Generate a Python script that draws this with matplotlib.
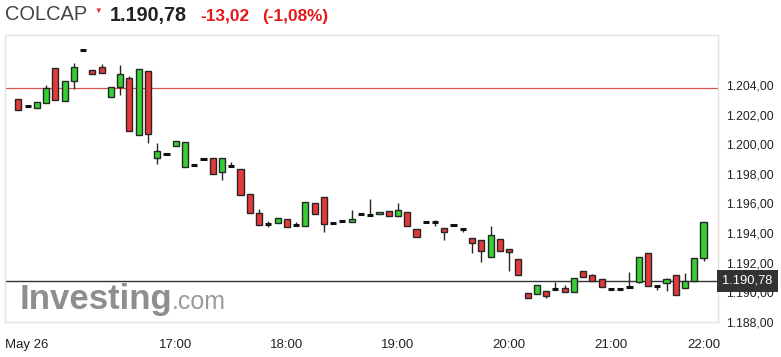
import matplotlib
matplotlib.use("Agg")
import matplotlib.pyplot as plt
import matplotlib.transforms as mtransforms
from matplotlib.patches import Rectangle

plt.rcParams['font.family'] = ['Liberation Sans', 'DejaVu Sans']

# 5-minute candles, COLCAP, May 26
times = [
    "15:35", "15:40", "15:45", "15:50", "15:55", "16:00", "16:05", "16:10", "16:15", "16:20",
    "16:25", "16:30", "16:35", "16:40", "16:45", "16:50", "16:55", "17:00", "17:05", "17:10",
    "17:15", "17:20", "17:25", "17:30", "17:35", "17:40", "17:45", "17:50", "17:55", "18:00",
    "18:05", "18:10", "18:15", "18:20", "18:25", "18:30", "18:35", "18:40", "18:45", "18:50",
    "18:55", "19:00", "19:05", "19:10", "19:15", "19:20", "19:25", "19:30", "19:35", "19:40",
    "19:45", "19:50", "19:55", "20:00", "20:05", "20:10", "20:15", "20:20", "20:25", "20:30",
    "20:35", "20:40", "20:45", "20:55", "21:00", "21:05", "21:10", "21:15", "21:20", "21:30",
    "21:35", "21:40", "21:45", "21:55", "22:00",
]

opens = [
    1203.04, 1202.55, 1202.44, 1202.77, 1205.14, 1202.92, 1204.29, 1206.36, 1205.03, 1205.24,
    1203.20, 1203.87, 1204.45, 1200.64, 1204.96, 1199.07, 1199.34, 1199.91, 1198.45, 1198.61,
    1199.03, 1199.07, 1198.09, 1198.56, 1198.33, 1196.64, 1195.37, 1194.62, 1194.69, 1194.96,
    1194.58, 1194.51, 1196.03, 1196.47, 1194.66, 1194.80, 1194.76, 1195.30, 1195.25, 1195.27,
    1195.52, 1195.18, 1195.43, 1194.29, 1194.73, 1194.73, 1194.35, 1194.56, 1194.31, 1193.68,
    1193.52, 1192.39, 1193.61, 1192.94, 1192.26, 1189.93, 1189.86, 1190.06, 1190.24, 1190.31,
    1190.01, 1191.41, 1191.14, 1190.87, 1190.26, 1190.20, 1190.38, 1190.72, 1192.67, 1190.45,
    1190.65, 1191.14, 1190.29, 1190.76, 1192.29,
]
closes = [
    1202.32, 1202.55, 1202.86, 1203.78, 1203.00, 1204.29, 1205.24, 1206.36, 1204.72, 1204.79,
    1203.87, 1204.72, 1200.91, 1205.05, 1200.72, 1199.55, 1199.34, 1200.23, 1200.14, 1198.61,
    1199.03, 1197.96, 1199.07, 1198.56, 1196.59, 1195.37, 1194.58, 1194.62, 1195.00, 1194.40,
    1194.58, 1196.07, 1195.32, 1194.62, 1194.66, 1194.80, 1194.96, 1195.30, 1195.25, 1195.45,
    1195.18, 1195.59, 1194.51, 1193.75, 1194.73, 1194.73, 1194.09, 1194.56, 1194.31, 1193.30,
    1192.78, 1193.90, 1192.82, 1192.74, 1191.20, 1189.59, 1190.53, 1189.75, 1190.24, 1190.01,
    1190.96, 1191.05, 1190.76, 1190.37, 1190.26, 1190.20, 1190.38, 1192.40, 1190.45, 1190.45,
    1190.90, 1189.84, 1190.80, 1192.33, 1194.77,
]
highs = [
    1203.04, 1202.55, 1202.86, 1204.00, 1205.14, 1204.29, 1205.50, 1206.36, 1205.03, 1205.42,
    1203.87, 1205.33, 1204.60, 1205.05, 1204.96, 1200.11, 1199.34, 1200.23, 1200.14, 1198.61,
    1199.03, 1199.07, 1199.07, 1198.77, 1198.33, 1196.64, 1195.63, 1194.80, 1195.00, 1194.96,
    1194.73, 1196.07, 1196.03, 1196.47, 1194.66, 1194.80, 1195.54, 1195.30, 1196.31, 1195.45,
    1195.52, 1196.03, 1195.43, 1194.29, 1194.73, 1194.87, 1194.35, 1194.56, 1194.31, 1193.68,
    1193.52, 1194.51, 1193.61, 1192.94, 1192.26, 1189.93, 1190.53, 1190.06, 1190.69, 1190.47,
    1190.96, 1191.41, 1191.25, 1190.87, 1190.26, 1190.20, 1191.37, 1192.40, 1192.67, 1190.45,
    1190.99, 1191.14, 1191.32, 1192.33, 1194.77,
]
lows = [
    1202.32, 1202.55, 1202.44, 1202.77, 1203.00, 1202.92, 1203.70, 1206.36, 1204.72, 1204.79,
    1203.20, 1203.33, 1200.91, 1200.64, 1200.11, 1198.63, 1199.34, 1199.91, 1198.45, 1198.61,
    1199.03, 1197.96, 1197.60, 1198.56, 1196.59, 1195.37, 1194.58, 1194.40, 1194.69, 1194.40,
    1194.58, 1194.51, 1195.32, 1194.05, 1194.66, 1194.80, 1194.76, 1195.30, 1195.25, 1195.27,
    1195.18, 1195.18, 1194.51, 1193.75, 1194.73, 1194.47, 1193.56, 1194.56, 1194.09, 1192.67,
    1192.03, 1192.39, 1192.82, 1191.42, 1191.20, 1189.59, 1189.86, 1189.63, 1190.24, 1190.01,
    1190.01, 1191.05, 1190.76, 1190.37, 1190.26, 1190.20, 1190.38, 1190.61, 1190.45, 1190.15,
    1190.08, 1189.84, 1190.29, 1190.76, 1192.10,
]

last_price = 1190.78
prev_close = 1203.80
change = -13.02
change_pct = -1.08
date_label = "May 26"
yticks = [1188, 1190, 1192, 1194, 1196, 1198, 1200, 1202, 1204]

GREEN = "#35cf35"
RED = "#e4393a"
EDGE = "#262626"
W, H = 781, 357


def fmt(v, dec=2):
    s = f"{v:,.{dec}f}"
    return s.replace(",", "X").replace(".", ",").replace("X", ".")


fig = plt.figure(figsize=(W / 100, H / 100), dpi=100)
ax = fig.add_axes([4.5 / W, 1 - 322 / H, (718 - 4.5) / W, (322 - 35) / H])

bw = 0.66
for i, (o, h, l, c) in enumerate(zip(opens, highs, lows, closes)):
    ax.vlines(i, l, h, color=EDGE, lw=1, zorder=2)
    if o == c:
        ax.hlines(o, i - bw / 2, i + bw / 2, color="#111111", lw=2.2, zorder=3)
    else:
        col = GREEN if c > o else RED
        ax.add_patch(Rectangle((i - bw / 2, min(o, c)), bw, abs(c - o),
                               facecolor=col, edgecolor=EDGE, lw=1, zorder=3))

ax.axhline(prev_close, color="#d9534f", lw=0.9, zorder=1)
ax.axhline(last_price, color="#333333", lw=1, zorder=1)

ax.set_xlim(-1.49, 75.56)
ax.set_ylim(1188.0, 1207.37)

# hour ticks from the candle times; the first hour is left out, it would sit on the date
hour_idx = [i for i, t in enumerate(times) if t.endswith(":00")][1:]
ax.set_xticks([-1.49] + hour_idx)
ax.set_xticklabels([date_label] + [times[i] for i in hour_idx], fontsize=9.5, color="#222222")
ax.get_xticklabels()[0].set_horizontalalignment("left")
ax.tick_params(axis="x", length=0, pad=12)

ax.yaxis.tick_right()
ax.set_yticks(yticks)
ax.set_yticklabels([fmt(v) for v in yticks], fontsize=8.7, color="#222222")
ax.tick_params(axis="y", length=0, pad=6)

for s in ax.spines.values():
    s.set_color("#e2e2e2")
    s.set_linewidth(1)

# current price box on the right axis
trans = mtransforms.blended_transform_factory(ax.transAxes, ax.transData)
ax.text(1.006, last_price, fmt(last_price), transform=trans, ha="left", va="center",
        fontsize=9.3, color="white", zorder=5, clip_on=False,
        bbox=dict(facecolor="#333333", edgecolor="none", boxstyle="square,pad=0.4"))

# header
by = 1 - 20.5 / H
fig.text(5 / W, by, "COLCAP", fontsize=14.4, color="#444444", va="baseline")
fig.text(94 / W, 1 - 13 / H, "\u25bc", fontsize=5.5, color="#e8282b", va="baseline")
fig.text(110 / W, by, fmt(last_price), fontsize=14.2, fontweight="bold", color="#222222", va="baseline")
fig.text(200 / W, by, fmt(change), fontsize=12.4, fontweight="bold", color="#e3191c", va="baseline")
fig.text(262 / W, by, f"({fmt(change_pct)}%)", fontsize=12.4, fontweight="bold", color="#e3191c", va="baseline")

# watermark
fig.text(20 / W, 1 - 309 / H, "Investing", fontsize=25, fontweight="bold", color="#8e8e8e", va="baseline")
fig.text(172 / W, 1 - 309 / H, ".com", fontsize=18, color="#9a9a9a", va="baseline")

fig.savefig("out.png", dpi=100)
